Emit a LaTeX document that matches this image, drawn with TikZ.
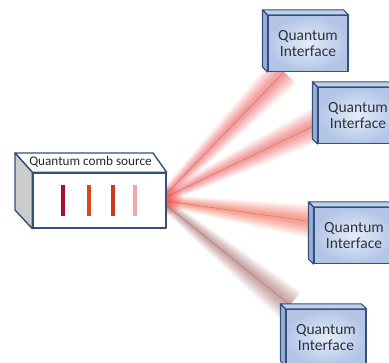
\documentclass[tikz,border=0pt]{standalone}
\usepackage{fontspec}
\setmainfont{Carlito}
\usetikzlibrary{calc,fadings}
\tikzfading[name=glowfade, inner color=transparent!0, outer color=transparent!100]
\definecolor{qborder}{HTML}{34507E}
\definecolor{qtop}{HTML}{C3D0EA}
\definecolor{qside}{HTML}{9AAFD6}
\definecolor{qin}{HTML}{E6ECF8}
\definecolor{qout}{HTML}{B3C5E6}
\definecolor{qtext}{HTML}{2B3340}
\definecolor{beamA}{HTML}{EE6A6A}
\definecolor{beamB}{HTML}{F0705A}
\definecolor{beamC}{HTML}{B07A7A}
\definecolor{lineA}{HTML}{A8102E}
\definecolor{lineB}{HTML}{D9481A}
\definecolor{lineC}{HTML}{C83A1E}
\definecolor{lineD}{HTML}{F2A8A8}
\newcommand\beamdraw[3]{%
  \foreach \w/\s/\o in {17/6/0.09,15/5/0.10,13/4.2/0.11,11/3.5/0.12,9/2.8/0.13,7/2.1/0.14,5/1.5/0.15,3/0.9/0.15}{%
    \fill[#3, opacity=\o] ($(#1)!\s pt!90:(#2)$) -- ($(#2)!\w pt!-90:(#1)$) -- ($(#2)!\w pt!90:(#1)$) -- ($(#1)!\s pt!-90:(#2)$) -- cycle;
  }%
  \draw[#3!65!black, opacity=0.6, line width=0.35pt] (#1) -- (#2);
}
\newcommand\qibox[3]{%
  \node[qiface] (#1) at (#2,#3) {Quantum\\Interface};
  \filldraw[qface3d, fill=qtop] ($(#1.north west)+(-5,-5)$) -- ($(#1.north east)+(-5,-5)$) -- (#1.north east) -- (#1.north west) -- cycle;
  \filldraw[qface3d, fill=qside] ($(#1.north west)+(-5,-5)$) -- (#1.north west) -- (#1.south west) -- ($(#1.south west)+(-5,-5)$) -- cycle;
}
\begin{document}
\begin{tikzpicture}[x=1pt,y=-1pt,
  qiface/.style={rectangle, draw=qborder, line width=1.1pt, minimum width=80pt, minimum height=56pt,
    inner color=qin, outer color=qout, align=center, text=qtext,
    font=\fontsize{15.5}{16.5}\selectfont, inner sep=0pt},
  qface3d/.style={draw=qborder, line width=1.1pt, line join=round},
  srcline/.style={line width=3.2pt},
  srcface/.style={draw=qborder, line width=1.4pt, line join=round}]
\useasboundingbox (0,0) rectangle (389,363);
\clip (0,0) rectangle (389,363);
% beam coordinates
\coordinate (s1) at (166,194);
\coordinate (s2) at (166,197);
\coordinate (s3) at (166,201);
\coordinate (s4) at (166,205);
\coordinate (e1) at (284,72);
\coordinate (e2) at (318,124);
\coordinate (e3) at (314,222);
\coordinate (e4) at (290,305);
\beamdraw{s1}{e1}{beamA}
\beamdraw{s2}{e2}{beamA}
\beamdraw{s3}{e3}{beamB}
\beamdraw{s4}{e4}{beamC}
\fill[red!75, path fading=glowfade, opacity=0.7] (168,200) circle (15);
% source box
\node[rectangle, srcface, fill=white, minimum width=133pt, minimum height=55pt, inner sep=0pt] (src) at (99.5,200.5) {};
\filldraw[srcface, fill=white] (15,153) -- (153,153) -- (src.north east) -- (src.north west) -- cycle;
\filldraw[srcface, fill=black!20] (15,153) -- (src.north west) -- (src.south west) -- (15,210) -- cycle;
\node[text=black!85, font=\fontsize{13.2}{15}\selectfont, inner sep=0pt, anchor=base] (srclabel) at (90.5,166) {Quantum comb source};
\draw[srcline, lineA] (63,185) -- (63,216);
\draw[srcline, lineB] (89,185) -- (89,216);
\draw[srcline, lineC] (113,185) -- (113,216);
\draw[srcline, lineD] (135,185) -- (135,216);
% interface boxes
\qibox{q1}{308}{43.5}
\qibox{q2}{358}{115.5}
\qibox{q3}{354}{235.5}
\qibox{q4}{326}{337.5}
\end{tikzpicture}
\end{document}
